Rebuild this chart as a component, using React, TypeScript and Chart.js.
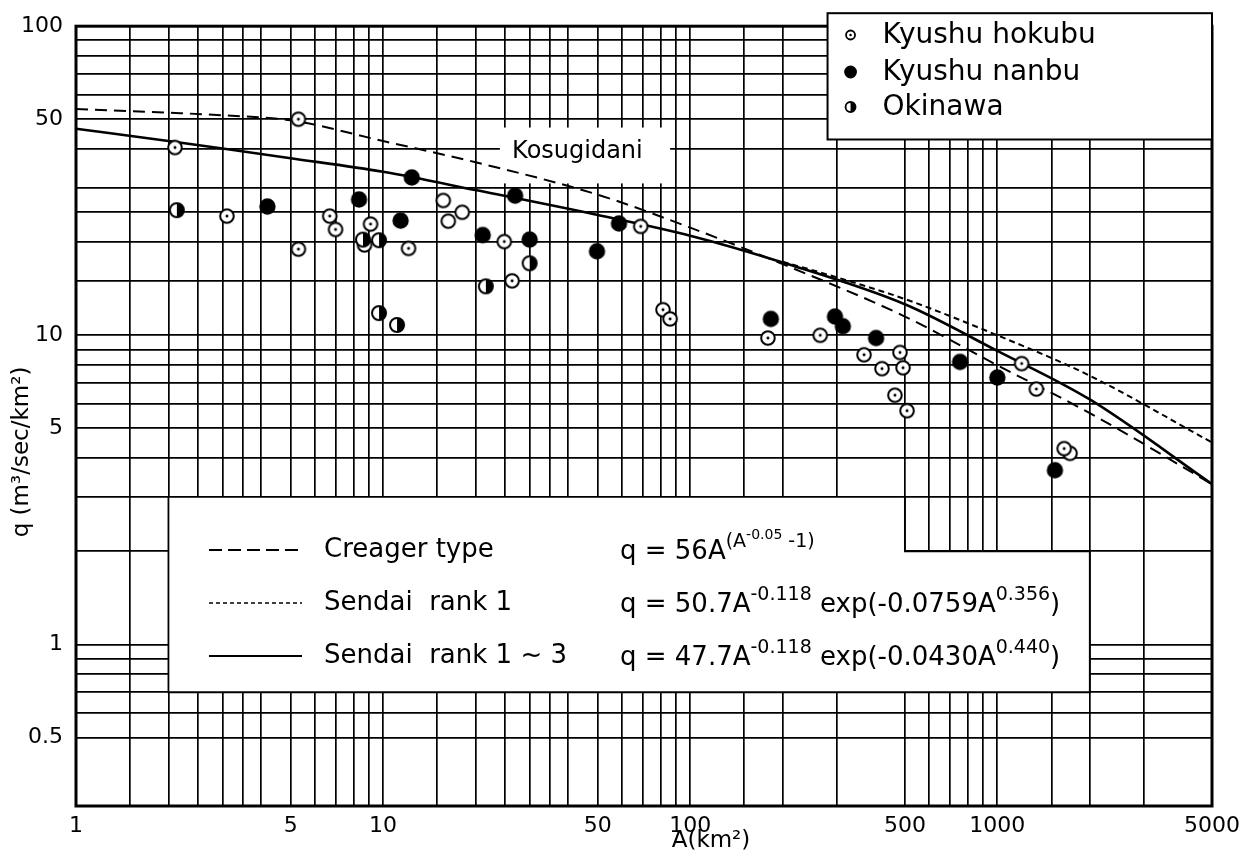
import { useEffect, useRef } from 'react';
import { Chart, registerables } from 'chart.js';

Chart.register(...registerables);

const FONT = '"DejaVu Sans", "Liberation Sans", Arial, sans-serif';

// ---- observed points: A (km²), q (m³/sec/km²) ----
const hokubuA = [2.1, 5.3, 3.1, 5.3, 6.7, 7.0, 9.1, 12.1, 24.8, 26.3, 69, 81.5, 86, 179, 265, 368, 482, 421, 493, 464, 508, 1200, 1340, 1650];
const hokubuQ = [40.5, 50, 24.3, 19, 24.3, 22, 22.9, 19.1, 20.1, 15, 22.5, 12.1, 11.3, 9.8, 10, 8.65, 8.8, 7.8, 7.85, 6.4, 5.7, 8.1, 6.7, 4.3];
const hokubuOpenA = [8.7, 15.7, 16.3, 18.1, 1725];
const hokubuOpenQ = [19.6, 27.3, 23.4, 25, 4.15];
const nanbuA = [4.2, 8.35, 11.4, 12.4, 21.1, 26.9, 30, 49.7, 58.6, 183, 296, 314, 403, 756, 1000, 1540];
const nanbuQ = [26.1, 27.5, 23.5, 32.4, 21.1, 28.3, 20.4, 18.7, 23, 11.3, 11.5, 10.7, 9.8, 8.2, 7.3, 3.66];
const okinawaA = [2.13, 8.6, 9.7, 9.7, 11.1, 21.6, 30];
const okinawaQ = [25.4, 20.4, 20.3, 11.8, 10.8, 14.4, 17.1];

// ---- envelope curves ----
const creagerA = [1, 2, 3, 5, 10, 20, 50, 100, 200, 500, 1000, 2000, 5000];
const creagerQ = [54, 52.5, 51.5, 49.6, 42.5, 36.3, 28.5, 22.3, 17, 11.5, 8.0, 5.6, 3.3];
const sendai1A = [200, 300, 500, 1000, 2000, 5000];
const sendai1Q = [17.3, 15.4, 13.1, 10, 7.4, 4.5];
const sendai3A = [1, 2, 3, 5, 10, 20, 50, 100, 200, 500, 1000, 2000, 5000];
const sendai3Q = [46.6, 42.5, 40.2, 37.4, 33.8, 29.5, 24.5, 21.0, 17.2, 12.6, 8.9, 6.2, 3.3];

// ---- axes ----
const xGridValues = [1, 1.5, 2, 2.5, 3, 3.5, 4, 5, 6, 7, 8, 9, 10, 15, 20, 25, 30, 35, 40, 50, 60, 70, 80, 90, 100, 150, 200, 300, 500, 600, 700, 800, 900, 1000, 1500, 2000, 3000, 5000];
const yGridValues = [0.5, 0.6, 0.7, 0.8, 0.9, 1, 2, 3, 4, 5, 6, 7, 8, 9, 10, 15, 20, 25, 30, 40, 50, 60, 70, 80, 90, 100];
const xTickLabels = [1, 5, 10, 50, 100, 500, 1000, 5000];
const yTickLabels = [0.5, 1, 5, 10, 50, 100];

// ---- text ----
const seriesLabels = ['Kyushu hokubu', 'Kyushu nanbu', 'Okinawa'];
const seriesKinds = ['dot', 'filled', 'half'];
const curveLabels = ['Creager type', 'Sendai  rank 1', 'Sendai  rank 1 ~ 3'];
const curveDashes = [[13, 6], [4, 3], []];
const curveWidths = [2, 1.5, 2.2];
type Part = [string, number];
const formulaRows: Part[][] = [
  [['q = 56A', 0], ['(A', 1], ['-0.05', 2], [' -1)', 1]],
  [['q = 50.7A', 0], ['-0.118', 1], [' exp(-0.0759A', 0], ['0.356', 1], [')', 0]],
  [['q = 47.7A', 0], ['-0.118', 1], [' exp(-0.0430A', 0], ['0.440', 1], [')', 0]],
];
const noteLabel = 'Kosugidani';
const xTitle = 'A(km²)';
const yTitle = 'q (m³/sec/km²)';

function drawMarker(ctx: CanvasRenderingContext2D, kind: string, cx: number, cy: number, r: number, lw: number) {
  ctx.save();
  ctx.lineWidth = lw;
  ctx.strokeStyle = '#000';
  ctx.fillStyle = '#fff';
  ctx.beginPath();
  ctx.arc(cx, cy, r, 0, Math.PI * 2);
  if (kind === 'filled') {
    ctx.fillStyle = '#000';
    ctx.fill();
    ctx.stroke();
  } else {
    ctx.fill();
    ctx.stroke();
  }
  if (kind === 'dot') {
    ctx.beginPath();
    ctx.arc(cx, cy, Math.max(1.3, r * 0.22), 0, Math.PI * 2);
    ctx.fillStyle = '#000';
    ctx.fill();
  }
  if (kind === 'half') {
    ctx.beginPath();
    ctx.moveTo(cx, cy - r);
    ctx.arc(cx, cy, r, -Math.PI / 2, Math.PI / 2);
    ctx.closePath();
    ctx.fillStyle = '#000';
    ctx.fill();
  }
  ctx.restore();
}

function markerCanvas(kind: string, r: number) {
  const size = Math.ceil(2 * r + 4);
  const c = document.createElement('canvas');
  c.width = size;
  c.height = size;
  const g = c.getContext('2d')!;
  drawMarker(g, kind, size / 2, size / 2, r, 2);
  return c;
}

function drawRich(ctx: CanvasRenderingContext2D, x: number, baseline: number, parts: Part[]) {
  const sizes = [26, 19, 14];
  const raise = [0, 12, 20];
  let cx = x;
  ctx.textAlign = 'left';
  ctx.textBaseline = 'alphabetic';
  for (const [t, lvl] of parts) {
    ctx.font = `${sizes[lvl]}px ${FONT}`;
    ctx.fillText(t, cx, baseline - raise[lvl]);
    cx += ctx.measureText(t).width;
  }
}

const decorPlugin = {
  id: 'decor',
  beforeDatasetsDraw(chart: any) {
    const { ctx, chartArea: ca } = chart;
    const xs = chart.scales.x;
    const ys = chart.scales.y;
    const X = (v: number) => xs.getPixelForValue(v);
    const Y = (v: number) => ys.getPixelForValue(v);
    ctx.save();
    ctx.strokeStyle = '#000';
    ctx.lineWidth = 3;
    ctx.strokeRect(ca.left, ca.top, ca.right - ca.left, ca.bottom - ca.top);

    // white panel for the formula legend
    ctx.beginPath();
    ctx.moveTo(X(2), Y(3));
    ctx.lineTo(X(500), Y(3));
    ctx.lineTo(X(500), Y(2));
    ctx.lineTo(X(2000), Y(2));
    ctx.lineTo(X(2000), Y(0.7));
    ctx.lineTo(X(2), Y(0.7));
    ctx.closePath();
    ctx.fillStyle = '#fff';
    ctx.fill();
    ctx.lineWidth = 1.8;
    ctx.strokeStyle = '#000';
    ctx.stroke();

    // white patch behind Kosugidani
    ctx.fillStyle = '#fff';
    ctx.fillRect(X(24), Y(47), X(86) - X(24), Y(31) - Y(47));
    ctx.fillStyle = '#000';
    ctx.font = `24px ${FONT}`;
    ctx.textAlign = 'left';
    ctx.textBaseline = 'middle';
    ctx.fillText(noteLabel, X(26.3), Y(39.3));

    // symbol legend box (top right)
    const bl = X(280);
    const bt = ca.top - 13;
    const bb = Y(43);
    const br = ca.right;
    ctx.fillStyle = '#fff';
    ctx.fillRect(bl, bt, br - bl, bb - bt);
    ctx.strokeStyle = '#000';
    ctx.lineWidth = 2;
    ctx.strokeRect(bl, bt, br - bl, bb - bt);
    const rowsY = [35, 72, 107];
    const symR = [4.5, 5.5, 5];
    for (let i = 0; i < seriesLabels.length; i++) {
      drawMarker(ctx, seriesKinds[i], bl + 23, rowsY[i], symR[i], 1.8);
      ctx.fillStyle = '#000';
      ctx.font = `28px ${FONT}`;
      ctx.textAlign = 'left';
      ctx.textBaseline = 'middle';
      ctx.fillText(seriesLabels[i], bl + 55, rowsY[i] + 1);
    }

    // curve legend with formulas
    const ly = [550, 603, 656];
    for (let i = 0; i < curveLabels.length; i++) {
      ctx.save();
      ctx.strokeStyle = '#000';
      ctx.lineWidth = curveWidths[i];
      ctx.setLineDash(curveDashes[i]);
      ctx.beginPath();
      ctx.moveTo(209, ly[i]);
      ctx.lineTo(302, ly[i]);
      ctx.stroke();
      ctx.restore();
      ctx.fillStyle = '#000';
      ctx.font = `26px ${FONT}`;
      ctx.textAlign = 'left';
      ctx.textBaseline = 'middle';
      ctx.fillText(curveLabels[i], 324, ly[i]);
      drawRich(ctx, 620, ly[i] + 9, formulaRows[i]);
    }
    ctx.restore();
  },
  afterDraw(chart: any) {
    const { ctx } = chart;
    ctx.save();
    ctx.fillStyle = '#000';
    ctx.font = `23px ${FONT}`;
    ctx.textAlign = 'center';
    ctx.textBaseline = 'middle';
    ctx.fillText(xTitle, 711, 841);
    ctx.translate(22, 452);
    ctx.rotate(-Math.PI / 2);
    ctx.fillText(yTitle, 0, 0);
    ctx.restore();
  },
};

const pts = (a: number[], q: number[]) => a.map((v, i) => ({ x: v, y: q[i] }));

export default function App() {
  const ref = useRef<HTMLCanvasElement>(null);
  useEffect(() => {
    const canvas = ref.current!;
    const lineBase = { type: 'line', borderColor: '#000', pointRadius: 0, fill: false, cubicInterpolationMode: 'monotone' };
    const gridOpts = { color: '#000', lineWidth: 1.7, drawTicks: false };
    const tickFont = { family: FONT, size: 22 };
    const chart = new Chart(canvas, {
      type: 'line',
      data: {
        datasets: [
          { type: 'scatter', label: seriesLabels[2], data: pts(okinawaA, okinawaQ), pointStyle: markerCanvas('half', 7), pointRadius: 7 },
          { type: 'scatter', label: seriesLabels[1], data: pts(nanbuA, nanbuQ), pointStyle: markerCanvas('filled', 7.2), pointRadius: 7 },
          { type: 'scatter', label: seriesLabels[0], data: pts(hokubuA, hokubuQ), pointStyle: markerCanvas('dot', 6.8), pointRadius: 7 },
          { type: 'scatter', label: 'open', data: pts(hokubuOpenA, hokubuOpenQ), pointStyle: markerCanvas('open', 6.8), pointRadius: 7 },
          { ...lineBase, label: curveLabels[1], data: pts(sendai1A, sendai1Q), borderWidth: 2, borderDash: [6, 4] },
          { ...lineBase, label: curveLabels[2], data: pts(sendai3A, sendai3Q), borderWidth: 2.6 },
          { ...lineBase, label: curveLabels[0], data: pts(creagerA, creagerQ), borderWidth: 2, borderDash: [12, 7] },
        ] as any,
      },
      options: {
        responsive: false,
        animation: false,
        events: [],
        layout: { padding: { top: 23, right: 41, bottom: 0, left: 0 } },
        plugins: { legend: { display: false }, tooltip: { enabled: false } },
        scales: {
          x: {
            type: 'logarithmic',
            min: 1,
            max: 5000,
            afterBuildTicks: (s: any) => { s.ticks = xGridValues.map((v) => ({ value: v })); },
            afterFit: (s: any) => { s.height = 54; },
            grid: gridOpts,
            border: { display: false },
            ticks: {
              autoSkip: false, maxRotation: 0, minRotation: 0, padding: 7, color: '#000', font: tickFont,
              callback: (v: any) => (xTickLabels.includes(Number(v)) ? String(v) : ''),
            },
          },
          y: {
            type: 'logarithmic',
            min: 0.3,
            max: 100,
            afterBuildTicks: (s: any) => { s.ticks = yGridValues.map((v) => ({ value: v })); },
            afterFit: (s: any) => { s.width = 76; },
            grid: gridOpts,
            border: { display: false },
            ticks: {
              autoSkip: false, padding: 13, color: '#000', font: tickFont,
              callback: (v: any) => (yTickLabels.includes(Number(v)) ? String(v) : ''),
            },
          },
        },
      } as any,
      plugins: [decorPlugin as any],
    });
    return () => chart.destroy();
  }, []);
  return (
    <div style={{ position: 'fixed', left: 0, top: 0, width: 1253, height: 860, background: '#fff' }}>
      <canvas ref={ref} width={1253} height={860} style={{ display: 'block', width: 1253, height: 860 }} />
    </div>
  );
}
